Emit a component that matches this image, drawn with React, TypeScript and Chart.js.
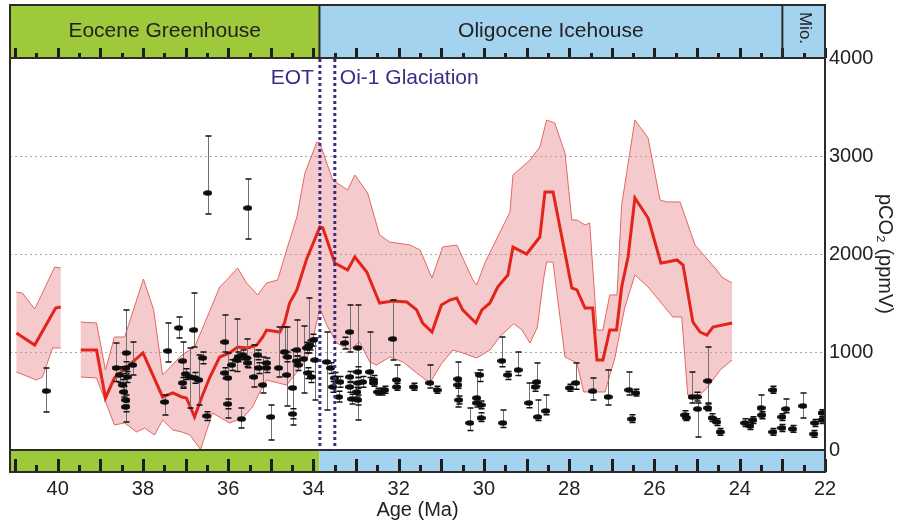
import { useEffect, useRef } from "react";
import { Chart, registerables } from "chart.js";

Chart.register(...registerables);

const FONT = "'Liberation Sans', Arial, Helvetica, sans-serif";

// ---- axes ----
const xTickValues = [22, 24, 26, 28, 30, 32, 34, 36, 38, 40];
const yTickValues = [0, 1000, 2000, 3000, 4000];
const xRange = [22, 41.12];
const yRange = [0, 4000];

// ---- epochs ----
const epochNames = ["Eocene Greenhouse", "Oligocene Icehouse", "Mio."];
const epochStart = [41.12, 33.86, 23.0];
const epochEnd = [33.86, 23.0, 22.0];
const epochColors = ["#9dc93a", "#a3d3ee", "#a3d3ee"];

// ---- events ----
const eventNames = ["EOT", "Oi-1 Glaciation"];
const eventAges = [33.85, 33.5];

// ---- median pCO2 (age Ma, ppmV) ----
const median1: [number, number][] = [
  [40.97, 1194], [40.54, 1071], [40.05, 1449], [39.93, 1459],
];
const upper1: [number, number][] = [
  [40.97, 1612], [40.83, 1602], [40.54, 1439], [40.07, 1867], [39.93, 1857],
];
const lower1: [number, number][] = [
  [40.97, 796], [40.5, 714], [40.36, 745], [40.12, 1041], [39.93, 1041],
];

const median2: [number, number][] = [
  [39.46, 1020], [39.09, 1020], [38.88, 531], [38.67, 735], [38.0, 990], [37.54, 541],
  [37.3, 582], [37.09, 541], [36.98, 531], [36.79, 337], [36.62, 541], [36.43, 745],
  [36.2, 949], [35.97, 990], [35.78, 1051], [35.54, 1041], [35.33, 1071], [35.19, 1153],
  [35.1, 1224], [34.79, 1204], [34.68, 1296], [34.56, 1500], [34.39, 1633], [34.16, 1950],
  [33.85, 2276], [33.78, 2265], [33.5, 1908], [33.2, 1837], [33.03, 1969], [32.75, 1816],
  [32.45, 1500], [32.14, 1520], [31.81, 1510], [31.58, 1429], [31.44, 1296], [31.22, 1204],
  [31.0, 1480], [30.8, 1530], [30.64, 1550], [30.5, 1430], [30.19, 1296], [30.05, 1429],
  [29.86, 1500], [29.68, 1663], [29.44, 1786], [29.32, 2071], [29.0, 2000], [28.69, 2173],
  [28.57, 2633], [28.38, 2633], [27.94, 1653], [27.82, 1633], [27.63, 1449], [27.45, 1449],
  [27.35, 918], [27.21, 918], [27.05, 1224], [26.89, 1224], [26.77, 1663], [26.62, 1969],
  [26.46, 2571], [26.15, 2367], [25.85, 1908], [25.71, 1918], [25.47, 1939], [25.33, 1888],
  [25.1, 1306], [24.93, 1204], [24.77, 1173], [24.63, 1255], [24.18, 1296],
];
const upper2: [number, number][] = [
  [39.46, 1306], [39.09, 1296], [38.88, 816], [38.67, 1153], [38.43, 1153], [37.99, 1745],
  [37.75, 1429], [37.54, 765], [37.09, 969], [36.79, 1051], [36.62, 1224], [36.2, 1663],
  [35.97, 1765], [35.78, 1857], [35.57, 1704], [35.31, 1582], [35.1, 1704], [34.84, 1735],
  [34.63, 2041], [34.39, 2378], [34.2, 2827], [33.92, 3143], [33.85, 3133], [33.55, 2755],
  [33.2, 2653], [33.03, 2806], [32.73, 2622], [32.45, 2194], [32.21, 2122], [31.74, 2092],
  [31.5, 2041], [31.22, 1755], [30.97, 2071], [30.64, 2092], [30.26, 1735], [30.17, 1684],
  [29.98, 1908], [29.68, 2173], [29.39, 2429], [29.32, 2806], [28.92, 2959], [28.69, 3092],
  [28.53, 3367], [28.34, 3337], [28.1, 3031], [27.94, 2347], [27.82, 2347], [27.63, 2296],
  [27.52, 2316], [27.35, 1224], [27.21, 1224], [27.05, 1582], [26.88, 1582], [26.77, 2500],
  [26.46, 3367], [26.15, 3184], [25.87, 2551], [25.71, 2531], [25.4, 2531], [25.05, 2092],
  [24.54, 1837], [24.42, 1765], [24.18, 1704],
];
const lower2: [number, number][] = [
  [39.46, 745], [39.09, 735], [38.67, 255], [38.43, 276], [38.15, 184], [37.96, 224],
  [37.73, 153], [37.54, 306], [37.3, 204], [37.09, 184], [36.9, 153], [36.65, 5],
  [36.37, 378], [35.97, 276], [35.66, 327], [35.43, 439], [35.26, 592], [35.1, 714],
  [34.63, 663], [34.16, 918], [34.02, 1122], [33.85, 1449], [33.69, 1276], [33.46, 1092],
  [33.15, 1020], [32.92, 1102], [32.68, 898], [32.52, 867], [32.21, 949], [31.9, 898],
  [31.58, 786], [31.27, 684], [31.0, 880], [30.73, 1020], [30.5, 990], [30.17, 939],
  [29.86, 1020], [29.62, 1160], [29.3, 1290], [29.11, 1224], [28.92, 1092], [28.75, 1250],
  [28.6, 1750], [28.53, 1918], [28.38, 1918], [28.1, 949], [27.82, 888], [27.66, 592],
  [27.16, 592], [26.93, 939], [26.7, 1450], [26.46, 1786], [26.15, 1663], [25.57, 1357],
  [25.36, 1357], [25.22, 561], [24.98, 541], [24.75, 643], [24.46, 816], [24.18, 918],
];

// ---- proxy estimates: [age, value, upper error, lower error] ----
const proxies: [number, number, number, number][] = [
  [40.27, 602, 837, 388], [38.63, 837, 1092, 700], [38.55, 765, 850, 690], [38.39, 990, 1429, 286],
  [38.4, 837, 900, 780], [38.48, 663, 720, 600], [38.45, 592, 650, 540], [38.4, 510, 560, 460],
  [38.41, 439, 490, 390], [38.37, 745, 800, 690], [38.24, 867, 1102, 765], [37.49, 490, 560, 357],
  [37.42, 1010, 1296, 898], [37.16, 1245, 1357, 1143], [37.07, 908, 1102, 643], [37.07, 684, 740, 630],
  [37.0, 776, 830, 720], [36.9, 745, 1041, 429], [36.81, 1224, 1602, 1051], [36.78, 735, 790, 680],
  [36.69, 714, 969, 459], [36.6, 939, 1000, 880], [36.5, 347, 390, 300], [36.08, 1102, 1378, 1000],
  [36.08, 786, 840, 730], [36.01, 735, 990, 327], [36.01, 469, 520, 420], [35.92, 867, 920, 810],
  [35.8, 918, 1337, 800], [35.77, 949, 1000, 900], [35.66, 969, 1020, 920], [35.69, 316, 429, 224],
  [35.57, 939, 1133, 850], [35.54, 888, 940, 840], [35.4, 745, 1071, 643], [35.31, 969, 1020, 920],
  [35.29, 837, 890, 780], [35.19, 663, 949, 582], [35.1, 888, 940, 840], [35.1, 837, 880, 790],
  [35.0, 337, 459, 102], [34.82, 837, 1255, 745], [34.68, 1000, 1255, 950], [34.63, 765, 1255, 449],
  [34.61, 949, 1000, 900], [34.49, 633, 1020, 255], [34.49, 367, 420, 320], [34.39, 1020, 1327, 960],
  [34.39, 908, 960, 860], [34.36, 867, 920, 810], [34.23, 929, 1265, 582], [34.16, 1041, 1100, 990],
  [34.11, 1051, 1551, 990], [34.13, 786, 840, 730], [34.05, 745, 800, 690], [34.0, 1122, 1180, 1060],
  [34.09, 1071, 1120, 1020], [33.97, 918, 1143, 510], [33.69, 898, 1204, 408], [33.6, 837, 890, 780],
  [33.55, 643, 700, 590], [33.5, 735, 790, 680], [33.38, 694, 750, 640], [33.41, 541, 600, 490],
  [33.27, 1092, 1150, 1030], [33.15, 1204, 1480, 1000], [33.15, 745, 800, 690], [33.15, 643, 700, 590],
  [33.1, 520, 570, 470], [32.96, 1041, 1480, 306], [32.96, 796, 850, 740], [32.96, 684, 740, 630],
  [32.98, 592, 640, 540], [32.96, 510, 560, 460], [32.85, 694, 750, 640], [32.68, 796, 1204, 740],
  [32.59, 714, 760, 670], [32.59, 684, 720, 650], [32.49, 592, 630, 560], [32.4, 592, 630, 560],
  [32.33, 612, 650, 580], [32.14, 1133, 1531, 918], [32.05, 714, 867, 633], [32.05, 643, 680, 610],
  [31.65, 643, 680, 610], [31.27, 684, 867, 633], [31.1, 612, 650, 580], [30.61, 724, 898, 439],
  [30.61, 663, 700, 630], [30.59, 510, 550, 470], [30.33, 276, 429, 200], [30.17, 531, 786, 480],
  [30.17, 480, 520, 440], [30.1, 765, 816, 700], [30.07, 459, 500, 420], [30.07, 327, 380, 290],
  [29.58, 910, 1153, 850], [29.56, 276, 408, 230], [29.44, 765, 800, 720], [29.2, 816, 1000, 760],
  [28.95, 480, 684, 430], [28.76, 694, 888, 650], [28.8, 643, 680, 600], [28.74, 337, 510, 300],
  [28.55, 398, 561, 360], [27.99, 633, 670, 600], [27.85, 684, 888, 620], [27.45, 600, 735, 510],
  [27.09, 541, 816, 459], [26.6, 612, 796, 560], [26.44, 582, 620, 550], [26.53, 316, 360, 280],
  [25.29, 357, 400, 320], [25.25, 330, 370, 300], [25.12, 541, 796, 480], [25.0, 541, 590, 500],
  [24.99, 418, 480, 133], [24.75, 704, 1051, 480], [24.75, 429, 470, 400], [24.65, 327, 370, 290],
  [24.54, 286, 320, 250], [24.46, 184, 220, 150], [23.88, 276, 320, 240], [23.76, 245, 280, 210],
  [23.69, 306, 340, 270], [23.5, 429, 560, 340], [23.48, 357, 390, 320], [23.22, 612, 650, 580],
  [23.22, 184, 220, 150], [23.01, 225, 260, 190], [23.01, 337, 370, 300], [22.92, 418, 520, 380],
  [22.76, 214, 250, 180], [22.52, 449, 582, 327], [22.26, 163, 200, 130], [22.24, 276, 310, 240],
  [22.07, 306, 340, 270], [22.07, 378, 410, 340], [36.48, 2622, 3204, 2408], [35.54, 2469, 2765, 2153],
];

const GAP_AGE = 39.7;

export default function App() {
  const ref = useRef<HTMLCanvasElement>(null);

  useEffect(() => {
    const canvas = ref.current;
    if (!canvas) return;

    const marker = document.createElement("canvas");
    marker.width = 9;
    marker.height = 6;
    const mc = marker.getContext("2d")!;
    mc.fillStyle = "#0d0d0d";
    mc.beginPath();
    mc.ellipse(4.5, 3, 4.5, 2.8, 0, 0, Math.PI * 2);
    mc.fill();

    const toXY = (arr: [number, number][]) => arr.map(([x, y]) => ({ x, y }));
    const gap = { x: GAP_AGE, y: null as any };
    const poly = (up: [number, number][], lo: [number, number][]) => [
      ...toXY(up),
      ...toXY(lo.slice().reverse()),
    ];

    const decor = {
      id: "decor",
      beforeDraw(chart: any) {
        const { ctx, chartArea, scales } = chart;
        const xs = scales.x;
        const bandTop = 5;
        const bottomBandBottom = chartArea.bottom + 22;
        ctx.save();
        // top band
        for (let i = 0; i < epochNames.length; i++) {
          const x1 = xs.getPixelForValue(epochStart[i]);
          const x2 = xs.getPixelForValue(epochEnd[i]);
          ctx.fillStyle = epochColors[i];
          ctx.fillRect(x1, bandTop, x2 - x1, chartArea.top - bandTop);
          ctx.fillRect(x1, chartArea.bottom, x2 - x1, bottomBandBottom - chartArea.bottom);
        }
        ctx.restore();
      },
      afterDraw(chart: any) {
        const { ctx, chartArea, scales } = chart;
        const xs = scales.x;
        const L = chartArea.left, R = chartArea.right, T = chartArea.top, B = chartArea.bottom;
        const bandTop = 5;
        const bb = B + 22;
        ctx.save();
        // band ticks
        ctx.strokeStyle = "#1e1e1e";
        ctx.lineWidth = 3;
        for (let a = 41; a >= 22; a -= 0.5) {
          const px = Math.round(xs.getPixelForValue(a)) + 0.5;
          const big = Math.abs(a - Math.round(a)) < 0.01;
          ctx.beginPath();
          ctx.moveTo(px, T);
          ctx.lineTo(px, T - (big ? 10 : 5));
          ctx.moveTo(px, bb);
          ctx.lineTo(px, bb - (big ? 13 : 7));
          ctx.stroke();
        }
        // frame
        ctx.strokeStyle = "#2b2b2b";
        ctx.lineWidth = 2;
        ctx.beginPath();
        ctx.moveTo(L, bandTop); ctx.lineTo(R, bandTop);
        ctx.moveTo(L, T); ctx.lineTo(R, T);
        ctx.moveTo(L, B); ctx.lineTo(R, B);
        ctx.moveTo(L, bb); ctx.lineTo(R, bb);
        ctx.moveTo(L, bandTop - 1); ctx.lineTo(L, bb + 1);
        ctx.moveTo(R, bandTop - 1); ctx.lineTo(R, bb + 1);
        for (let i = 1; i < epochStart.length; i++) {
          const px = xs.getPixelForValue(epochStart[i]);
          ctx.moveTo(px, bandTop); ctx.lineTo(px, T);
        }
        ctx.stroke();
        // epoch labels
        ctx.fillStyle = "#222";
        ctx.textAlign = "center";
        ctx.textBaseline = "middle";
        for (let i = 0; i < epochNames.length; i++) {
          const x1 = xs.getPixelForValue(epochStart[i]);
          const x2 = xs.getPixelForValue(epochEnd[i]);
          const cx = (x1 + x2) / 2;
          if (i === 2) {
            ctx.save();
            ctx.font = `17px ${FONT}`;
            ctx.translate(cx + 1, 28);
            ctx.rotate(Math.PI / 2);
            ctx.fillText(epochNames[i], 0, 0);
            ctx.restore();
          } else {
            ctx.font = `21px ${FONT}`;
            ctx.fillText(epochNames[i], cx, 31);
          }
        }
        // event lines
        ctx.strokeStyle = "#3b2d86";
        ctx.lineWidth = 3;
        ctx.setLineDash([3, 3]);
        for (let i = 0; i < eventAges.length; i++) {
          const px = xs.getPixelForValue(eventAges[i]);
          ctx.beginPath();
          ctx.moveTo(px, T + 1);
          ctx.lineTo(px, B);
          ctx.stroke();
        }
        ctx.setLineDash([]);
        ctx.fillStyle = "#3b2d86";
        ctx.font = `21px ${FONT}`;
        ctx.textBaseline = "middle";
        const e0 = xs.getPixelForValue(eventAges[0]);
        const e1 = xs.getPixelForValue(eventAges[1]);
        ctx.textAlign = "right";
        ctx.fillText(eventNames[0], e0 - 6, 78);
        ctx.textAlign = "left";
        ctx.fillText(eventNames[1], e1 + 5, 78);
        ctx.restore();
      },
      beforeDatasetDraw(chart: any, args: any) {
        if (args.index !== 0) return;
        const { ctx, scales } = chart;
        const xs = scales.x, ys = scales.y;
        ctx.save();
        for (const p of chart.data.datasets[0].data as any[]) {
          const px = Math.round(xs.getPixelForValue(p.x)) + 0.5;
          const top = ys.getPixelForValue(p.hi);
          const bot = ys.getPixelForValue(p.lo);
          ctx.strokeStyle = "#707070";
          ctx.lineWidth = 1;
          ctx.beginPath();
          ctx.moveTo(px, top);
          ctx.lineTo(px, bot);
          ctx.stroke();
          ctx.strokeStyle = "#111";
          ctx.lineWidth = 1.5;
          ctx.beginPath();
          ctx.moveTo(px - 3, top); ctx.lineTo(px + 3, top);
          ctx.moveTo(px - 3, bot); ctx.lineTo(px + 3, bot);
          ctx.stroke();
        }
        ctx.restore();
      },
    };

    const chart = new Chart(canvas, {
      type: "line",
      data: {
        datasets: [
          {
            label: "proxies",
            data: proxies.map(([x, y, hi, lo]) => ({ x, y, hi, lo })) as any,
            showLine: false,
            borderColor: "rgba(0,0,0,0)",
            pointStyle: marker as any,
            pointRadius: 4,
            order: 0,
          },
          {
            label: "median",
            data: [...toXY(median1), gap, ...toXY(median2)] as any,
            borderColor: "#e3241b",
            borderWidth: 3,
            pointRadius: 0,
            fill: false,
            spanGaps: false,
            order: 1,
          },
          {
            label: "upper",
            data: [...toXY(upper1), gap, ...toXY(upper2)] as any,
            borderColor: "#e2685e",
            borderWidth: 1,
            pointRadius: 0,
            fill: false,
            spanGaps: false,
            order: 2,
          },
          {
            label: "lower",
            data: [...toXY(lower1), gap, ...toXY(lower2)] as any,
            borderColor: "#e2685e",
            borderWidth: 1,
            pointRadius: 0,
            fill: false,
            spanGaps: false,
            order: 2,
          },
          {
            label: "band1",
            data: poly(upper1, lower1) as any,
            borderColor: "rgba(0,0,0,0)",
            backgroundColor: "rgba(230,128,137,0.42)",
            pointRadius: 0,
            fill: "shape",
            order: 3,
          },
          {
            label: "band2",
            data: poly(upper2, lower2) as any,
            borderColor: "rgba(0,0,0,0)",
            backgroundColor: "rgba(230,128,137,0.42)",
            pointRadius: 0,
            fill: "shape",
            order: 3,
          },
        ],
      },
      options: {
        animation: false,
        responsive: false,
        events: [],
        layout: { padding: { top: 58, left: 10, right: 0, bottom: 0 } },
        plugins: {
          legend: { display: false },
          tooltip: { enabled: false },
        },
        scales: {
          x: {
            type: "linear",
            reverse: true,
            min: xRange[0],
            max: xRange[1],
            position: "bottom",
            afterFit: (s: any) => { s.height = 75; },
            afterBuildTicks: (s: any) => { s.ticks = xTickValues.map((v) => ({ value: v })); },
            grid: { display: false, drawTicks: false },
            border: { display: false },
            ticks: {
              padding: 27,
              autoSkip: false,
              maxRotation: 0,
              color: "#222",
              font: { size: 20, family: FONT },
              callback: (v: any) => String(v),
            },
            title: {
              display: true,
              text: "Age (Ma)",
              color: "#222",
              font: { size: 20, family: FONT },
              padding: { top: 0, bottom: 3 },
            },
          },
          y: {
            type: "linear",
            position: "right",
            min: yRange[0],
            max: yRange[1],
            afterFit: (s: any) => { s.width = 72; },
            afterBuildTicks: (s: any) => { s.ticks = yTickValues.map((v) => ({ value: v })); },
            grid: {
              drawTicks: false,
              lineWidth: 1,
              color: (c: any) =>
                c.tick && (c.tick.value === yRange[0] || c.tick.value === yRange[1])
                  ? "rgba(0,0,0,0)"
                  : "#a8a8a8",
            },
            border: { display: false, dash: [2, 3] },
            ticks: {
              padding: 4,
              color: "#222",
              font: { size: 20, family: FONT },
              callback: (v: any) => String(v),
            },
            title: {
              display: true,
              text: "pCO₂ (ppmV)",
              color: "#222",
              font: { size: 20, family: FONT },
              padding: { top: 0, bottom: 0 },
            },
          },
        },
      } as any,
      plugins: [decor as any],
    });

    return () => chart.destroy();
  }, []);

  return (
    <div style={{ position: "absolute", left: 0, top: 0, width: 897, height: 525, background: "#fff" }}>
      <canvas ref={ref} width={897} height={525} style={{ display: "block" }} />
    </div>
  );
}
